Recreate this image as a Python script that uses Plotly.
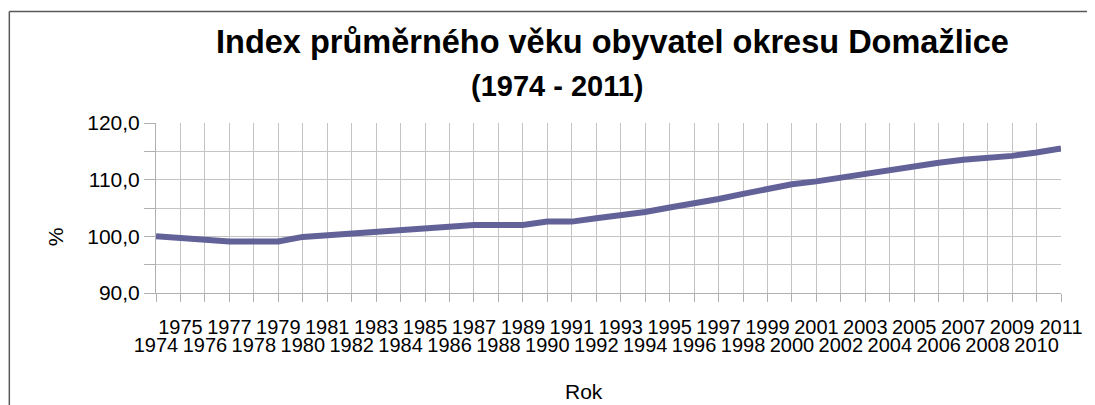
import plotly.graph_objects as go

years = list(range(1974, 2012))
index_values = [100.0, 99.7, 99.5, 99.1, 99.1, 99.1, 99.9, 100.2, 100.5, 100.8,
                101.1, 101.5, 101.8, 102.0, 102.0, 102.0, 102.6, 102.6, 103.2, 103.7,
                104.3, 105.1, 105.8, 106.6, 107.5, 108.4, 109.2, 109.7, 110.4, 111.1,
                111.8, 112.4, 113.0, 113.5, 113.8, 114.2, 114.8, 115.5]
y_ticks = [90, 95, 100, 105, 110, 115, 120]
y_ticktext = ["90,0", "", "100,0", "", "110,0", "", "120,0"]

title_line1 = "Index průměrného věku obyvatel okresu Domažlice"
title_line2 = "(1974 - 2011)"
x_title = "Rok"
y_title = "%"

FONT = "Liberation Sans, Arial, sans-serif"
GRID = "#C4C4C4"

OFF = 8  # page body margin
W, H = 1095 - OFF, 405 - OFF
L, R, T, B = 156 - OFF, 32, 123 - OFF, 112
pw, ph = W - L - R, H - T - B

def px_x(p):
    return (p - OFF - L) / pw

def px_y(p):
    return (H - B - (p - OFF)) / ph

fig = go.Figure()
fig.add_trace(go.Scatter(x=years, y=index_values, mode="lines",
                         line=dict(color="#626299", width=6),
                         hoverinfo="x+y", showlegend=False))
fig.add_trace(go.Scatter(x=years, y=index_values, xaxis="x2", mode="lines",
                         line=dict(width=0), opacity=0, hoverinfo="skip",
                         showlegend=False))

odd_text = [str(y) if y % 2 == 1 else "" for y in years]
even_years = [y for y in years if y % 2 == 0]

fig.update_layout(
    width=W, height=H,
    margin=dict(l=L, r=R, t=T, b=B),
    paper_bgcolor="white", plot_bgcolor="white",
    font=dict(family=FONT, color="#000000"),
    xaxis=dict(range=[1974, 2011], tickvals=years, ticktext=odd_text,
               showgrid=True, gridcolor=GRID, gridwidth=1,
               showline=True, linecolor="#B0B0B0", linewidth=1,
               ticks="outside", ticklen=8, tickcolor="#B0B0B0",
               ticklabelstandoff=8,
               tickfont=dict(size=20, family=FONT, color="#000"),
               tickangle=0, zeroline=False, fixedrange=True),
    xaxis2=dict(range=[1974, 2011], overlaying="x", side="bottom", anchor="y",
                tickvals=even_years, ticktext=[str(y) for y in even_years],
                showgrid=False, showline=False, ticks="",
                ticklabelstandoff=38,
                tickfont=dict(size=20, family=FONT, color="#000"),
                tickangle=0, zeroline=False, fixedrange=True),
    yaxis=dict(range=[90, 120], tickvals=y_ticks, ticktext=y_ticktext,
               showgrid=True, gridcolor=GRID, gridwidth=1,
               showline=True, linecolor="#B0B0B0", linewidth=1,
               ticks="outside", ticklen=11, tickcolor="#B0B0B0",
               tickfont=dict(size=21, family=FONT, color="#000"),
               zeroline=False, fixedrange=True),
    annotations=[
        dict(text="<b>" + title_line1 + "</b>", xref="paper", yref="paper",
             x=px_x(614), y=px_y(42), xanchor="center", yanchor="middle",
             showarrow=False, font=dict(size=32.5, family=FONT, color="#000")),
        dict(text="<b>" + title_line2 + "</b>", xref="paper", yref="paper",
             x=px_x(558), y=px_y(86), xanchor="center", yanchor="middle",
             showarrow=False, font=dict(size=29, family=FONT, color="#000")),
        dict(text=x_title, xref="paper", yref="paper",
             x=px_x(585), y=px_y(391), xanchor="center", yanchor="middle",
             showarrow=False, font=dict(size=21, family=FONT, color="#000")),
        dict(text=y_title, xref="paper", yref="paper",
             x=px_x(55), y=px_y(237), xanchor="center", yanchor="middle",
             textangle=-90, showarrow=False,
             font=dict(size=21, family=FONT, color="#000")),
    ],
    shapes=[
        dict(type="line", xref="paper", yref="paper",
             x0=px_x(9), x1=px_x(1100), y0=px_y(11.5), y1=px_y(11.5),
             line=dict(color="#5A5A5A", width=1.5)),
        dict(type="line", xref="paper", yref="paper",
             x0=px_x(9), x1=px_x(9), y0=px_y(11.5), y1=px_y(410),
             line=dict(color="#5A5A5A", width=1.5)),
    ],
)

fig.write_html("out.html")
